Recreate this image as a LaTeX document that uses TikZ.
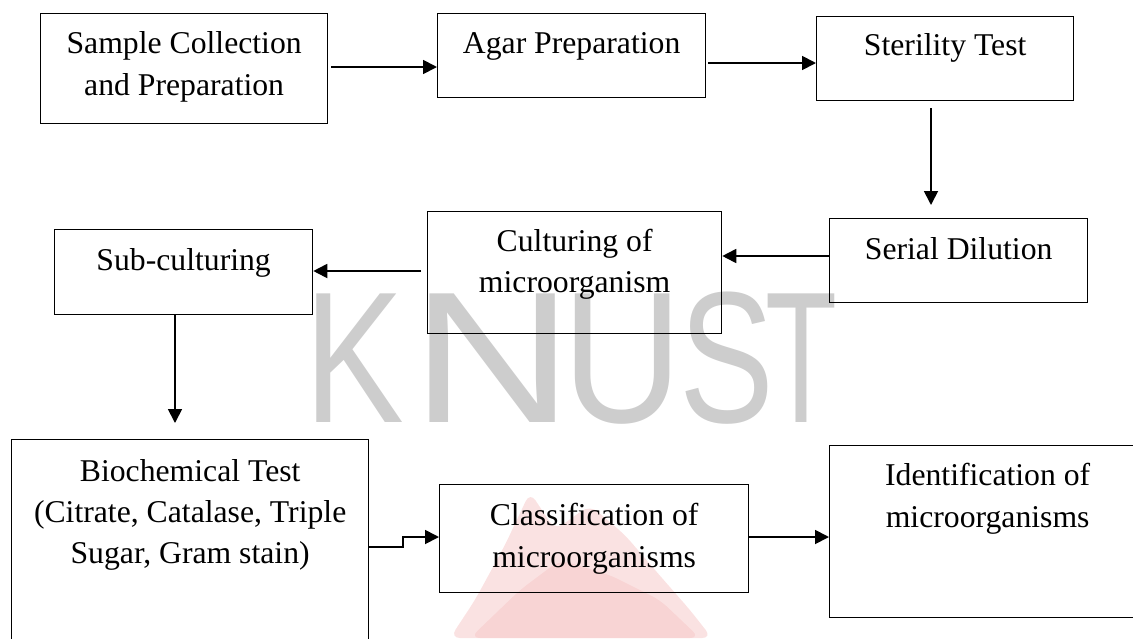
\documentclass[tikz,border=0pt]{standalone}
\usepackage{fontspec}
\setmainfont{Liberation Serif}
\newfontfamily\wmfont{Liberation Sans}
\usetikzlibrary{arrows.meta}
\definecolor{wmgray}{RGB}{205,205,205}
\definecolor{logored}{RGB}{232,110,110}
\begin{document}
\begin{tikzpicture}[x=1pt,y=-1pt,
  box/.style={draw, line width=1.3pt, inner sep=0pt, anchor=north west},
  txt/.style={inner sep=0pt, anchor=base, font=\fontsize{31.7}{41.5}\selectfont},
  conn/.style={line width=1.8pt, -{Triangle[length=14pt,width=14pt]}},
  wm/.style={inner sep=0pt, anchor=base, text=wmgray, font=\wmfont\fontsize{187}{187}\selectfont}]
\useasboundingbox (0,0) rectangle (1133,638);
\clip (0,0) rectangle (1133,638);

% faint logo fragment
\fill[logored, opacity=0.2, rounded corners=10pt] (450,638) -- (475,600) -- (505,545) -- (530,492) -- (555,530) -- (590,505) -- (625,535) -- (655,570) -- (690,610) -- (712,638) -- cycle;
\fill[logored, opacity=0.12, rounded corners=10pt] (470,638) -- (520,590) -- (560,560) -- (610,575) -- (660,600) -- (700,638) -- cycle;

% watermark
\node[wm] (wK) at (354,422) {\scalebox{0.8}[1]{K}};
\node[wm] (wN) at (493,422) {\scalebox{1.2}[1]{N}};
\node[wm] (wU) at (623,422) {\scalebox{0.89}[1]{U}};
\node[wm] (wS) at (727,422) {\scalebox{0.76}[1]{S}};
\node[wm] (wT) at (801,422) {\scalebox{0.63}[1]{T}};

% boxes
\node[box, minimum width=287pt, minimum height=110pt] (sc) at (40,13) {};
\node[box, minimum width=268pt, minimum height=84pt] (ag) at (437,13) {};
\node[box, minimum width=257pt, minimum height=84pt] (st) at (816,16) {};
\node[box, minimum width=258pt, minimum height=84pt] (sd) at (829,218) {};
\node[box, minimum width=294pt, minimum height=122pt] (cu) at (427,211) {};
\node[box, minimum width=258pt, minimum height=85pt] (sub) at (54,229) {};
\node[box, minimum width=357pt, minimum height=230pt] (bio) at (11,439) {};
\node[box, minimum width=309pt, minimum height=108pt] (cl) at (439,484) {};
\node[box, minimum width=316pt, minimum height=172pt] (id) at (829,445) {};

% texts
\node[txt] (sc1) at (sc.north |- 0,53) {Sample Collection};
\node[txt] (sc2) at (sc.north |- 0,95) {and Preparation};
\node[txt] (ag1) at (ag.north |- 0,53) {Agar Preparation};
\node[txt] (st1) at (st.north |- 0,55) {Sterility Test};
\node[txt] (sd1) at (sd.north |- 0,259) {Serial Dilution};
\node[txt] (cu1) at (cu.north |- 0,251) {Culturing of};
\node[txt] (cu2) at (cu.north |- 0,292) {microorganism};
\node[txt] (sub1) at (sub.north |- 0,270) {Sub-culturing};
\node[txt] (bio1) at (bio.north |- 0,481) {Biochemical Test};
\node[txt] (bio2) at (bio.north |- 0,522) {(Citrate, Catalase, Triple};
\node[txt] (bio3) at (bio.north |- 0,563) {Sugar, Gram stain)};
\node[txt] (cl1) at (cl.north |- 0,525) {Classification of};
\node[txt] (cl2) at (cl.north |- 0,567) {microorganisms};
\node[txt] (id1) at (id.north |- 0,485) {Identification of};
\node[txt] (id2) at (id.north |- 0,527) {microorganisms};

% connectors
\draw[conn, shorten <=3pt] (sc.east |- 0,67) -- (ag.west |- 0,67);
\draw[conn, shorten <=2pt] (ag.east |- 0,63) -- (st.west |- 0,63);
\draw[conn, shorten <=7pt, shorten >=13pt] (st.south -| 931,0) -- (sd.north -| 931,0);
\draw[conn] (sd.west |- 0,256) -- (cu.east |- 0,256);
\draw[conn, shorten <=6pt] (cu.west |- 0,271) -- (sub.east |- 0,271);
\draw[conn, shorten >=16pt] (sub.south -| 175,0) -- (bio.north -| 175,0);
\draw[conn] (bio.east |- 0,547) -- ++(34,0) -- ++(0,-10) -- (cl.west |- 0,537);
\draw[conn] (cl.east |- 0,537) -- (id.west |- 0,537);
\end{tikzpicture}
\end{document}
